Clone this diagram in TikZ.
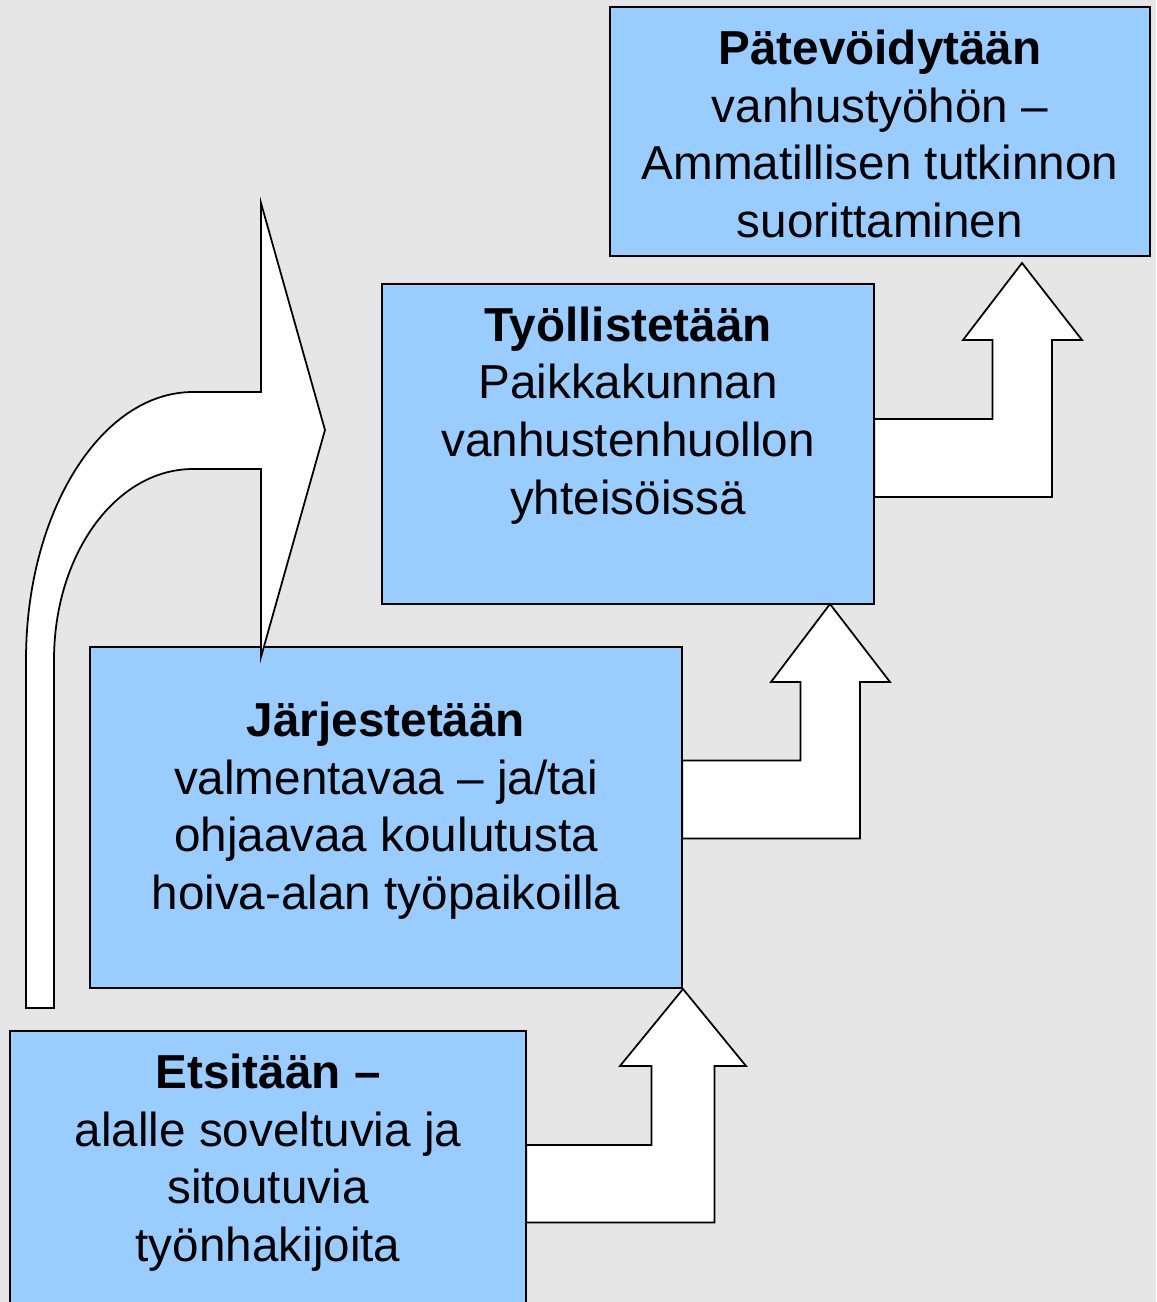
\documentclass[tikz,border=0pt]{standalone}
\usepackage{fontspec}
\setmainfont{Liberation Sans}
\definecolor{boxblue}{HTML}{99CCFF}
\definecolor{bggray}{HTML}{E6E6E6}
\begin{document}
\begin{tikzpicture}[x=0.01cm,y=-0.01cm,
  box/.style={draw=black, line width=0.65pt, fill=boxblue, inner sep=0pt, outer sep=0pt, rectangle},
  txt/.style={align=center, font=\fontsize{13.55}{16.4}\selectfont, inner sep=0pt},
  blockarrow/.style={draw=black, line width=0.5pt, fill=white, line join=miter}]
\clip (0,0) rectangle (1156,1302);
\fill[bggray] (0,0) rectangle (1156,1302);

% boxes
\node[box, minimum width=5.16cm, minimum height=2.89cm] (b1) at (268,1175.5) {};
\node[box, minimum width=5.92cm, minimum height=3.41cm] (b2) at (386,817.5) {};
\node[box, minimum width=4.92cm, minimum height=3.20cm] (b3) at (628,444) {};
\node[box, minimum width=5.40cm, minimum height=2.49cm] (b4) at (880,131.5) {};

% texts
\node[txt] (t1) at (268,1162.5) {\textbf{Etsitään –}\\alalle soveltuvia ja\\sitoutuvia\\työnhakijoita};
\node[txt] (t2) at (386,810.5) {\textbf{Järjestetään}\\valmentavaa – ja/tai\\ohjaavaa koulutusta\\hoiva-alan työpaikoilla};
\node[txt] (t3) at (628,415.5) {\textbf{Työllistetään}\\Paikkakunnan\\vanhustenhuollon\\yhteisöissä};
\node[txt] (t4) at (880,134) {\textbf{Pätevöidytään}\\vanhustyöhön –\\Ammatillisen tutkinnon\\suorittaminen};

% bent-up arrows between boxes
\coordinate (tipA) at (683,989);
\draw[blockarrow] (b1.east |- 0,1145) -- (651.5,1145) -- (651.5,1066) -- (620,1066) -- (tipA)
  -- (746,1066) -- (714.5,1066) -- (714.5,1222.5) -- (b1.east |- 0,1222.5) -- cycle;

\coordinate (tipB) at (830,604);
\draw[blockarrow] (b2.east |- 0,760.5) -- (800.5,760.5) -- (800.5,682) -- (771,682) -- (tipB)
  -- (890,682) -- (860,682) -- (860,838.5) -- (b2.east |- 0,838.5) -- cycle;

\coordinate (tipC) at (1022,263);
\draw[blockarrow] (b3.east |- 0,419) -- (992.5,419) -- (992.5,340) -- (963,340) -- (tipC)
  -- (1082,340) -- (1052,340) -- (1052,497) -- (b3.east |- 0,497) -- cycle;

% curved arrow
\coordinate (tipD) at (325,430);
\draw[blockarrow] (26,1008) -- (26,660) .. controls (26,512) and (101,392) .. (193,392)
  -- (261,392) -- (261,203) -- (tipD) -- (261,657) -- (261,469) -- (193,469)
  .. controls (116,469) and (54,554) .. (54,660) -- (54,1008) -- cycle;
\end{tikzpicture}
\end{document}
